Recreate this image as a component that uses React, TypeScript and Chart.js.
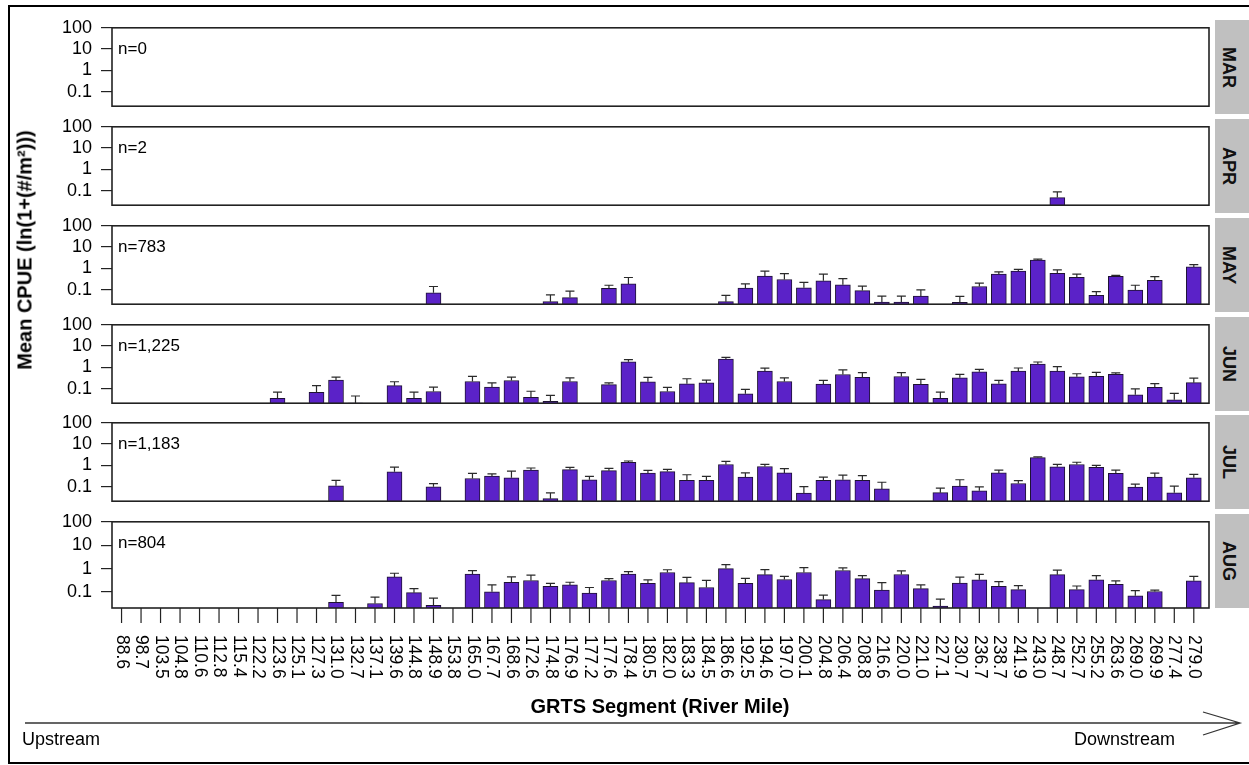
import React, { useEffect, useRef } from "react";
import { Chart, registerables } from "chart.js";

Chart.register(...registerables);

const _ = null;

// ---------- data ----------
const RIVER_MILES = [
  "88.6", "98.7", "103.5", "104.8", "110.6", "112.8", "115.4", "122.2", "123.6", "125.1",
  "127.3", "131.0", "132.7", "137.1", "139.6", "144.8", "148.9", "153.8", "165.0", "167.7",
  "168.6", "172.6", "174.8", "176.9", "177.2", "177.6", "178.4", "180.5", "182.0", "183.3",
  "184.5", "186.6", "192.5", "194.6", "197.0", "200.1", "204.8", "206.4", "208.8", "216.6",
  "220.0", "221.0", "227.1", "230.7", "236.7", "238.7", "241.9", "243.0", "248.7", "252.7",
  "255.2", "263.6", "269.0", "269.9", "277.4", "279.0",
];

const MONTHS = ["MAR", "APR", "MAY", "JUN", "JUL", "AUG"];
const SAMPLE_SIZES = ["n=0", "n=2", "n=783", "n=1,225", "n=1,183", "n=804"];
const Y_TICKS = [100, 10, 1, 0.1];

const MAR_MEAN: (number | null)[] = RIVER_MILES.map(() => null);
const MAR_UPPER: (number | null)[] = RIVER_MILES.map(() => null);

const APR_MEAN = [
  _, _, _, _, _, _, _, _, _, _,
  _, _, _, _, _, _, _, _, _, _,
  _, _, _, _, _, _, _, _, _, _,
  _, _, _, _, _, _, _, _, _, _,
  _, _, _, _, _, _, _, _, 0.047, _,
  _, _, _, _, _, _,
];
const APR_UPPER = [
  _, _, _, _, _, _, _, _, _, _,
  _, _, _, _, _, _, _, _, _, _,
  _, _, _, _, _, _, _, _, _, _,
  _, _, _, _, _, _, _, _, _, _,
  _, _, _, _, _, _, _, _, 0.087, _,
  _, _, _, _, _, _,
];

const MAY_MEAN = [
  _, _, _, _, _, _, _, _, _, _,
  _, _, _, _, _, _, 0.071, _, _, _,
  _, _, 0.027, 0.042, _, 0.115, 0.185, _, _, _,
  _, 0.027, 0.118, 0.43, 0.3, 0.122, 0.26, 0.17, 0.09, 0.026,
  0.026, 0.049, _, 0.025, 0.14, 0.53, 0.74, 2.46, 0.58, 0.38,
  0.054, 0.42, 0.096, 0.27, _, 1.17,
];
const MAY_UPPER = [
  _, _, _, _, _, _, _, _, _, _,
  _, _, _, _, _, _, 0.14, _, _, _,
  _, _, 0.056, 0.085, _, 0.16, 0.37, _, _, _,
  _, 0.053, 0.185, 0.74, 0.56, 0.22, 0.53, 0.33, 0.145, 0.049,
  0.049, 0.098, _, 0.048, 0.2, 0.68, 0.89, 2.7, 0.85, 0.53,
  0.081, 0.47, 0.16, 0.41, _, 1.5,
];

const JUN_MEAN = [
  _, _, _, _, _, _, _, _, 0.035, _,
  0.066, 0.25, 0.0208, _, 0.138, 0.035, 0.073, _, 0.215, 0.118,
  0.24, 0.039, 0.025, 0.215, _, 0.155, 1.83, 0.21, 0.073, 0.17,
  0.185, 2.46, 0.057, 0.66, 0.215, _, 0.165, 0.46, 0.34, _,
  0.37, 0.16, 0.035, 0.32, 0.62, 0.17, 0.66, 1.44, 0.66, 0.36,
  0.38, 0.47, 0.051, 0.115, 0.03, 0.19,
];
const JUN_UPPER = [
  _, _, _, _, _, _, _, _, 0.069, _,
  0.138, 0.35, 0.045, _, 0.21, 0.069, 0.118, _, 0.38, 0.185,
  0.35, 0.075, 0.048, 0.32, _, 0.185, 2.3, 0.34, 0.115, 0.29,
  0.25, 2.95, 0.093, 0.91, 0.32, _, 0.245, 0.76, 0.56, _,
  0.56, 0.27, 0.069, 0.47, 0.81, 0.245, 0.93, 1.78, 1.07, 0.5,
  0.58, 0.55, 0.098, 0.17, 0.06, 0.31,
];

const JUL_MEAN = [
  _, _, _, _, _, _, _, _, _, _,
  _, 0.11, _, _, 0.5, _, 0.098, _, 0.24, 0.31,
  0.26, 0.6, 0.027, 0.63, 0.21, 0.56, 1.4, 0.43, 0.51, 0.195,
  0.195, 1.1, 0.28, 0.88, 0.44, 0.049, 0.195, 0.21, 0.195, 0.078,
  _, _, 0.052, 0.105, 0.063, 0.44, 0.14, 2.3, 0.85, 1.1,
  0.8, 0.42, 0.095, 0.28, 0.051, 0.26,
];
const JUL_UPPER = [
  _, _, _, _, _, _, _, _, _, _,
  _, 0.195, _, _, 0.83, _, 0.138, _, 0.42, 0.4,
  0.53, 0.75, 0.051, 0.8, 0.3, 0.72, 1.6, 0.58, 0.65, 0.36,
  0.3, 1.55, 0.44, 1.1, 0.7, 0.1, 0.28, 0.35, 0.33, 0.16,
  _, _, 0.085, 0.21, 0.098, 0.6, 0.19, 2.5, 1.1, 1.4,
  1.0, 0.6, 0.13, 0.43, 0.105, 0.38,
];

const AUG_MEAN = [
  _, _, _, _, _, _, _, _, _, _,
  _, 0.036, _, 0.032, 0.44, 0.093, 0.027, _, 0.58, 0.102,
  0.26, 0.31, 0.175, 0.2, 0.09, 0.31, 0.58, 0.235, 0.68, 0.25,
  0.155, 1.0, 0.235, 0.55, 0.34, 0.68, 0.047, 0.83, 0.37, 0.12,
  0.56, 0.138, 0.025, 0.24, 0.33, 0.175, 0.126, _, 0.55, 0.126,
  0.33, 0.21, 0.069, 0.105, _, 0.3,
];
const AUG_UPPER = [
  _, _, _, _, _, _, _, _, _, _,
  _, 0.071, _, 0.06, 0.63, 0.14, 0.054, _, 0.81, 0.2,
  0.44, 0.52, 0.235, 0.26, 0.155, 0.37, 0.74, 0.33, 0.89, 0.42,
  0.31, 1.48, 0.38, 0.91, 0.46, 1.1, 0.073, 1.07, 0.5, 0.25,
  0.79, 0.2, 0.049, 0.43, 0.56, 0.275, 0.185, _, 0.85, 0.18,
  0.5, 0.3, 0.115, 0.12, _, 0.46,
];

const MEANS = [MAR_MEAN, APR_MEAN, MAY_MEAN, JUN_MEAN, JUL_MEAN, AUG_MEAN];
const UPPERS = [MAR_UPPER, APR_UPPER, MAY_UPPER, JUN_UPPER, JUL_UPPER, AUG_UPPER];

// ---------- style / layout ----------
const FONT = '"Liberation Sans", Arial, Helvetica, sans-serif';
const W = 1249;
const H = 765;
const PLOT_LEFT = 112;
const PLOT_RIGHT = 1209;
const PANEL_TOPS = [20, 119, 218, 317, 415, 514];
const PANEL_H = 94;
const X_MIN = -0.49;
const X_MAX = 55.78;
const Y_MIN = 0.0206;
const Y_MAX = 100;
const BAR_FILL = "#5b22c8";
const BAR_EDGE = "#1e1233";
const LINE = "#222222";

type PanelProps = { idx: number };

function Panel({ idx }: PanelProps) {
  const ref = useRef<HTMLCanvasElement | null>(null);
  const showX = idx === MONTHS.length - 1;
  const padT = 12;
  const padB = showX ? 95 : 12;
  const top = PANEL_TOPS[idx] - padT;
  const height = PANEL_H + padT + padB;

  useEffect(() => {
    const canvas = ref.current;
    if (!canvas) return;
    const mean = MEANS[idx];
    const upper = UPPERS[idx];
    const points = mean
      .map((v, i) => (v == null ? null : { x: i, y: v }))
      .filter((p) => p !== null) as { x: number; y: number }[];

    const panelPlugin = {
      id: "panelDeco" + idx,
      afterDatasetsDraw(chart: any) {
        const c = chart.ctx as CanvasRenderingContext2D;
        const xs = chart.scales.x;
        const ys = chart.scales.y;
        c.save();
        c.strokeStyle = "#2a2a2a";
        c.lineWidth = 1.2;
        for (let i = 0; i < upper.length; i++) {
          const u = upper[i];
          if (u == null) continue;
          const x = xs.getPixelForValue(i);
          const y0 = ys.getPixelForValue(mean[i] == null ? Y_MIN : (mean[i] as number));
          const y1 = ys.getPixelForValue(u);
          c.beginPath();
          c.moveTo(x, y0);
          c.lineTo(x, y1);
          c.moveTo(x - 4.5, y1);
          c.lineTo(x + 4.5, y1);
          c.stroke();
        }
        c.restore();
      },
      afterDraw(chart: any) {
        const c = chart.ctx as CanvasRenderingContext2D;
        const a = chart.chartArea;
        c.save();
        c.strokeStyle = LINE;
        c.lineWidth = 1.6;
        c.strokeRect(a.left, a.top, a.right - a.left, a.bottom - a.top);
        c.fillStyle = "#000";
        c.font = `17px ${FONT}`;
        c.textAlign = "left";
        c.textBaseline = "middle";
        c.fillText(SAMPLE_SIZES[idx], a.left + 6, a.top + 22);
        if (showX) {
          const xs = chart.scales.x;
          c.lineWidth = 1.2;
          c.strokeStyle = LINE;
          c.font = `17.5px ${FONT}`;
          for (let i = 0; i < RIVER_MILES.length; i++) {
            const x = xs.getPixelForValue(i);
            c.beginPath();
            c.moveTo(x, a.bottom);
            c.lineTo(x, a.bottom + 15);
            c.stroke();
            c.save();
            c.translate(x, a.bottom + 27);
            c.rotate(Math.PI / 2);
            c.textAlign = "left";
            c.textBaseline = "middle";
            c.fillText(RIVER_MILES[i], 0, 0);
            c.restore();
          }
        }
        c.restore();
      },
    };

    const chart = new Chart(canvas, {
      type: "bar",
      data: {
        datasets: [
          {
            data: points as any,
            backgroundColor: BAR_FILL,
            borderColor: BAR_EDGE,
            borderWidth: 1,
            barThickness: 15,
          },
        ],
      },
      options: {
        responsive: false,
        animation: false,
        devicePixelRatio: 1,
        layout: { padding: { left: 0, right: W - PLOT_RIGHT, top: padT, bottom: padB } },
        plugins: { legend: { display: false }, tooltip: { enabled: false } },
        scales: {
          x: {
            type: "linear",
            min: X_MIN,
            max: X_MAX,
            offset: false,
            grid: { offset: false },
            display: false,
          },
          y: {
            type: "logarithmic",
            min: Y_MIN,
            max: Y_MAX,
            afterFit: (s: any) => {
              s.width = PLOT_LEFT;
            },
            afterBuildTicks: (s: any) => {
              s.ticks = Y_TICKS.map((v) => ({ value: v }));
            },
            ticks: {
              autoSkip: false,
              color: "#000",
              padding: 9,
              font: { family: FONT, size: 18 },
              callback: (v: any) => String(v),
            },
            grid: { drawOnChartArea: false, tickLength: 11, color: LINE, lineWidth: 1.2 },
            border: { display: false },
          },
        },
      } as any,
      plugins: [panelPlugin],
    });
    return () => chart.destroy();
  }, [idx]);

  return (
    <canvas
      ref={ref}
      width={W}
      height={height}
      style={{ position: "absolute", left: 0, top, width: W, height }}
    />
  );
}

function Strip({ idx }: PanelProps) {
  return (
    <div
      style={{
        position: "absolute",
        left: 1215,
        top: PANEL_TOPS[idx],
        width: 40,
        height: PANEL_H,
        background: "#c0c0c0",
        display: "flex",
        alignItems: "center",
        justifyContent: "flex-start",
        paddingLeft: 5,
        boxSizing: "border-box",
      }}
    >
      <span
        style={{
          writingMode: "vertical-rl",
          fontFamily: FONT,
          fontWeight: "bold",
          fontSize: 18,
          color: "#111",
          lineHeight: 1,
        }}
      >
        {MONTHS[idx]}
      </span>
    </div>
  );
}

export default function App() {
  return (
    <div
      style={{
        position: "absolute",
        left: 0,
        top: 0,
        width: W,
        height: H,
        overflow: "hidden",
        background: "#fff",
        fontFamily: FONT,
      }}
    >
      <div
        style={{
          position: "absolute",
          left: 8,
          top: 5,
          width: 1250,
          height: 759,
          border: "2px solid #000",
          boxSizing: "border-box",
        }}
      />
      {MONTHS.map((m, i) => (
        <Strip key={"s" + m} idx={i} />
      ))}
      {MONTHS.map((m, i) => (
        <Panel key={m} idx={i} />
      ))}
      <div
        style={{
          position: "absolute",
          left: 25,
          top: 250,
          transform: "translate(-50%, -50%) rotate(-90deg)",
          whiteSpace: "nowrap",
          fontWeight: "bold",
          fontSize: 20,
          color: "#000",
        }}
      >
        Mean CPUE (ln(1+(#/m²)))
      </div>
      <div
        style={{
          position: "absolute",
          left: 660,
          top: 706,
          transform: "translate(-50%, -50%)",
          whiteSpace: "nowrap",
          fontWeight: "bold",
          fontSize: 20,
          color: "#000",
        }}
      >
        GRTS Segment (River Mile)
      </div>
      <svg
        width={W}
        height={H}
        style={{ position: "absolute", left: 0, top: 0, pointerEvents: "none" }}
      >
        <path
          d="M 25 723 L 1240 723 M 1203 712 L 1240 723 L 1203 735"
          stroke="#333"
          strokeWidth={1.3}
          fill="none"
        />
      </svg>
      <div
        style={{
          position: "absolute",
          left: 22,
          top: 739,
          transform: "translateY(-50%)",
          whiteSpace: "nowrap",
          fontSize: 18,
          color: "#000",
        }}
      >
        Upstream
      </div>
      <div
        style={{
          position: "absolute",
          right: W - 1175,
          top: 739,
          transform: "translateY(-50%)",
          whiteSpace: "nowrap",
          fontSize: 18,
          color: "#000",
        }}
      >
        Downstream
      </div>
    </div>
  );
}
